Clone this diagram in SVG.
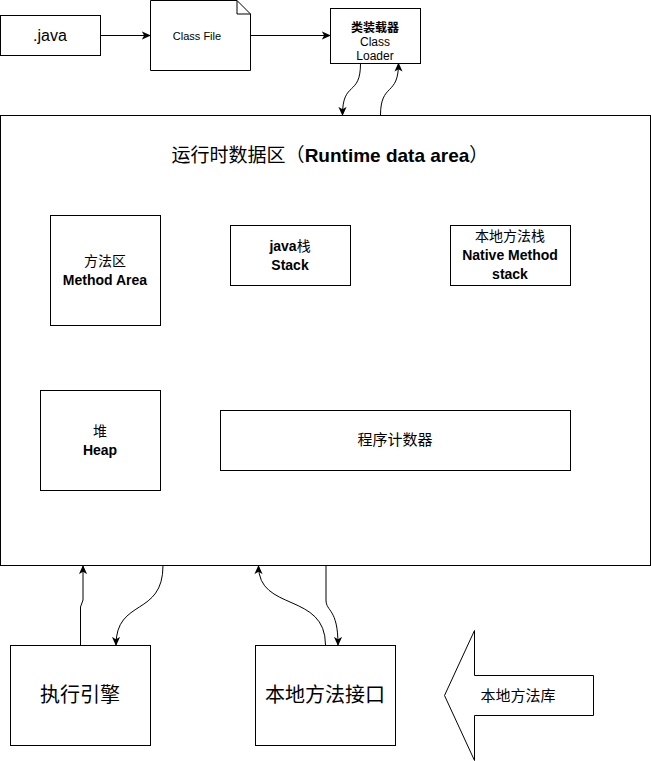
<svg xmlns="http://www.w3.org/2000/svg" width="651" height="761" viewBox="0 0 651 761">
<defs>
<marker id="ah" viewBox="0 0 10 10" refX="9" refY="5" markerWidth="9" markerHeight="9" markerUnits="userSpaceOnUse" orient="auto">
<path d="M0,0.5 L10,5 L0,9.5 L2.5,5 Z" fill="#000"/>
</marker>
<style>
.box{fill:#fff;stroke:#000;stroke-width:1}
.edge{fill:none;stroke:#000;stroke-width:1;marker-end:url(#ah)}
text{font-family:"Liberation Sans","Noto Sans CJK SC",sans-serif;text-anchor:middle;fill:#000}
.b{font-weight:bold}
.cn{font-family:"Noto Sans CJK SC","Liberation Sans",sans-serif;font-weight:normal}
</style>
</defs>
<rect width="651" height="761" fill="#fff"/>
<g id="runtime-area">
<rect class="box" x="0.5" y="115.5" width="650" height="450"/>
<text x="330" y="162" font-size="19"><tspan class="cn">运行时数据区（</tspan><tspan class="b">Runtime data area</tspan><tspan class="cn">）</tspan></text>
</g>
<g id="java">
<rect class="box" x="0.5" y="15.5" width="100" height="40"/>
<text x="50" y="41" font-size="16">.java</text>
</g>
<g id="classfile">
<path class="box" d="M150.5,0.5 H237 L250.5,14 V70.5 H150.5 Z"/>
<path d="M237,0.5 V14 H250.5" fill="none" stroke="#000"/>
<text x="197" y="40" font-size="11">Class File</text>
</g>
<g id="classloader">
<rect class="box" x="330.5" y="8.5" width="90" height="55"/>
<text x="375" y="32" font-size="12" class="cn" style="font-weight:bold">类装载器</text>
<text x="375" y="46" font-size="12">Class</text>
<text x="375" y="60" font-size="12">Loader</text>
</g>
<g id="method-area">
<rect class="box" x="50.5" y="215.5" width="110" height="110"/>
<text x="105" y="266" font-size="14" class="cn">方法区</text>
<text x="105" y="285" font-size="14" class="b">Method Area</text>
</g>
<g id="java-stack">
<rect class="box" x="230.5" y="225.5" width="120" height="60"/>
<text x="290" y="251" font-size="14"><tspan class="b">java</tspan><tspan class="cn">栈</tspan></text>
<text x="290" y="270" font-size="14" class="b">Stack</text>
</g>
<g id="native-stack">
<rect class="box" x="450.5" y="225.5" width="120" height="60"/>
<text x="510" y="241" font-size="14" class="cn">本地方法栈</text>
<text x="510" y="260" font-size="14" class="b">Native Method</text>
<text x="510" y="279" font-size="14" class="b">stack</text>
</g>
<g id="heap">
<rect class="box" x="40.5" y="390.5" width="120" height="100"/>
<text x="100" y="436" font-size="14" class="cn">堆</text>
<text x="100" y="455" font-size="14" class="b">Heap</text>
</g>
<g id="pc-register">
<rect class="box" x="220.5" y="410.5" width="350" height="60"/>
<text x="395" y="445" font-size="15" class="cn">程序计数器</text>
</g>
<g id="exec-engine">
<rect class="box" x="10.5" y="645.5" width="140" height="100"/>
<text x="80" y="702" font-size="20" class="cn">执行引擎</text>
</g>
<g id="native-interface">
<rect class="box" x="255.5" y="645.5" width="140" height="100"/>
<text x="325" y="702" font-size="20" class="cn">本地方法接口</text>
</g>
<g id="native-lib">
<path class="box" d="M444.5,695.5 L474.5,630.5 V675.5 H593.5 V715.5 H474.5 V760.5 Z"/>
<text x="518" y="701" font-size="15" class="cn">本地方法库</text>
</g>
<g id="connectors">
<path class="edge" d="M100.5,35.5 H150"/>
<path class="edge" d="M250.5,35.5 H330"/>
<path class="edge" d="M360.5,63.5 C360.5,97 342.5,80 342.5,115"/>
<path class="edge" d="M380.5,115.5 C380.5,82 398.5,97 398.5,63.5"/>
<path class="edge" d="M80.5,645 V607 L83,600 V566"/>
<path class="edge" d="M163,565.5 C163,617 116,598 116,645"/>
<path class="edge" d="M325.5,645 C325.5,592 258.5,612 258.5,566"/>
<path class="edge" d="M326,565.5 V600 C326,612 338,608 338,645"/>
</g>
</svg>
